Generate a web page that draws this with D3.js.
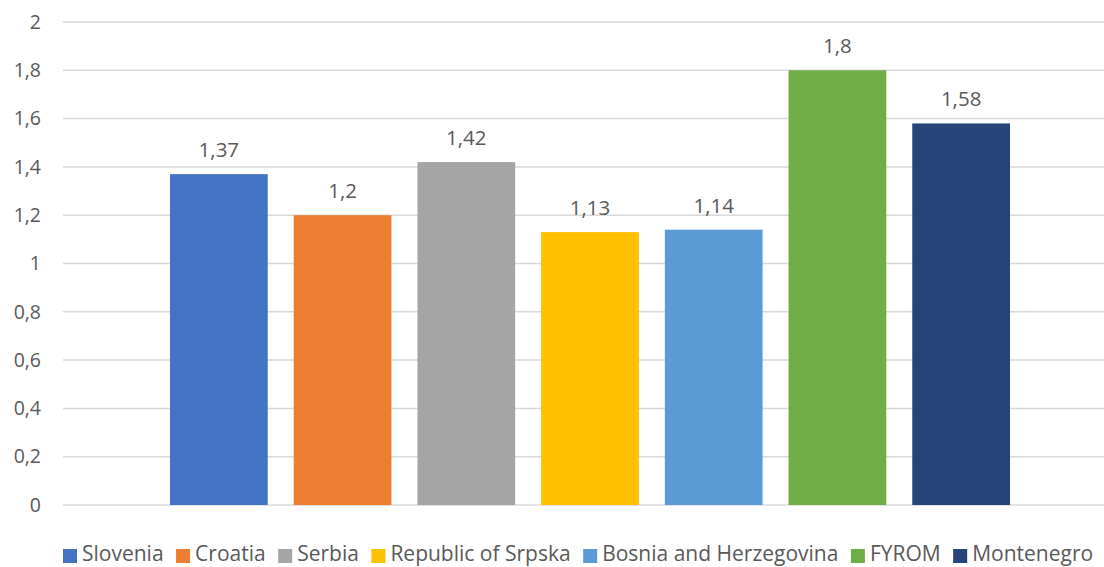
<!DOCTYPE html>
<html>
<head>
<meta charset="utf-8">
<script src="https://cdn.jsdelivr.net/npm/d3@7"></script>
<style>
  body { margin: 0; background: #fff; }
  text { font-family: "Open Sans", "Noto Sans", sans-serif; fill: #595959; }
</style>
</head>
<body>
<div id="chart"></div>
<script>
var countries = ["Slovenia", "Croatia", "Serbia", "Republic of Srpska", "Bosnia and Herzegovina", "FYROM", "Montenegro"]
var values = [1.37, 1.2, 1.42, 1.13, 1.14, 1.8, 1.58]
var colors = ["#4472c4", "#ed7d31", "#a5a5a5", "#ffc000", "#5b9bd5", "#70ad47", "#264478"]
var yTicks = [0, 0.2, 0.4, 0.6, 0.8, 1, 1.2, 1.4, 1.6, 1.8, 2]

var width = 1104, height = 567
var fmt = function(v){ return String(v).replace(".", ",") }

var svg = d3.select("#chart").append("svg")
  .attr("width", width)
  .attr("height", height)

var y = d3.scaleLinear().domain([0, 2]).range([505, 22])

// bars sit in one cluster, with blank room on the left
var x = d3.scaleBand().domain(countries).range([170, 1010]).paddingInner(0.21).paddingOuter(0)

// gridlines
svg.append("g").selectAll("line").data(yTicks).enter().append("line")
  .attr("x1", 63).attr("x2", width)
  .attr("y1", function(d){ return y(d) })
  .attr("y2", function(d){ return y(d) })
  .attr("stroke", "#d9d9d9")
  .attr("stroke-width", 1.5)

// y labels
var yAxis = d3.axisLeft(y).tickValues(yTicks).tickFormat(fmt).tickSize(0).tickPadding(0)
var ya = svg.append("g").attr("transform", "translate(41,0)").call(yAxis)
ya.select(".domain").remove()
ya.selectAll("text").style("font-size", "19.5px").style("font-family", null).attr("fill", "#595959")

// bars
svg.append("g").selectAll("rect").data(values).enter().append("rect")
  .attr("x", function(d, i){ return x(countries[i]) })
  .attr("y", function(d){ return y(d) })
  .attr("width", x.bandwidth())
  .attr("height", function(d){ return y(0) - y(d) })
  .attr("fill", function(d, i){ return colors[i] })

// value labels
svg.append("g").selectAll("text").data(values).enter().append("text")
  .attr("x", function(d, i){ return x(countries[i]) + x.bandwidth()/2 })
  .attr("y", function(d){ return y(d) - 17 })
  .attr("text-anchor", "middle")
  .style("font-size", "20.5px")
  .text(fmt)

// legend
var leg = svg.append("g")
var lx = 63
countries.forEach(function(c, i){
  leg.append("rect").attr("x", lx).attr("y", 549).attr("width", 14).attr("height", 14).attr("fill", colors[i])
  var t = leg.append("text").attr("x", lx + 19).attr("y", 561).style("font-size", "21px").text(c)
  lx += 19 + t.node().getComputedTextLength() + 12.5
})
</script>
</body>
</html>
